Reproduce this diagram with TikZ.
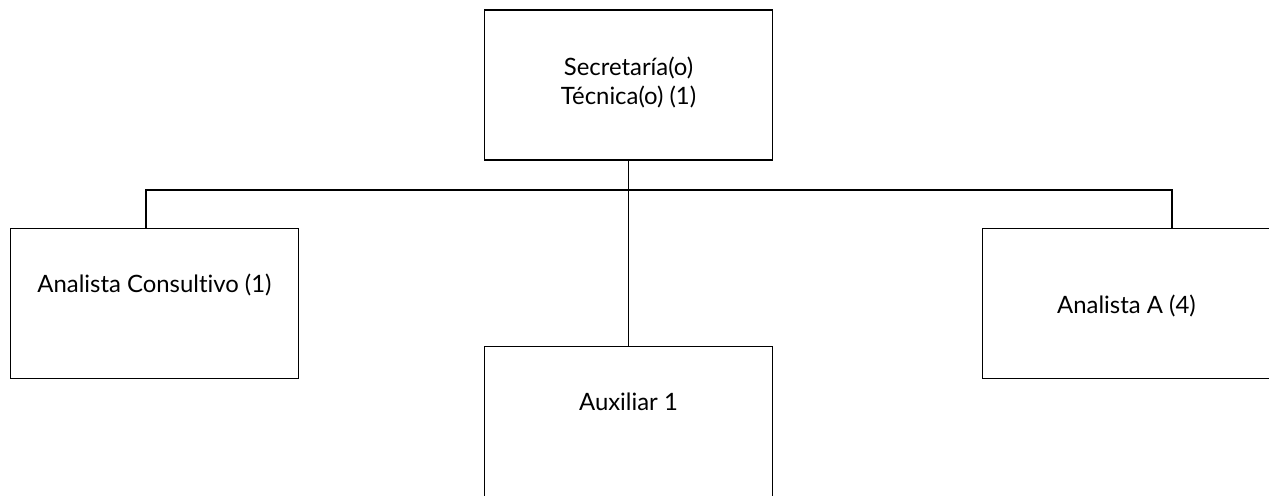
\documentclass[tikz,border=0pt]{standalone}
\usepackage{fontspec}
\setmainfont{Lato}[Ligatures=NoCommon]
\usetikzlibrary{positioning}

\tikzset{
    puesto/.style={draw, line width=0.8pt, minimum width=5.76cm, minimum height=3cm, inner sep=0pt, outer sep=0pt},
    rotulo/.style={font=\fontsize{13.6}{16.5}\selectfont, align=center, inner sep=0pt},
    enlace/.style={line width=0.8pt}
}

\begin{document}
\begin{tikzpicture}[x=0.02cm, y=-0.02cm]
    \useasboundingbox (0,0) rectangle (1269,496);
    \clip (0,0) rectangle (1269,496);

    % Boxes
    \node[puesto] (sec) at (628.5,85) {};
    \node[puesto] (cons) at (154.5,303.5) {};
    \node[puesto] (aux) at (628.5,421.5) {};
    \node[puesto] (ana) at (1126.5,303.5) {};

    % Texts
    \node[rotulo] (secT) at ([yshift=0.06cm]sec.center) {Secretaría(o)\\Técnica(o) (1)};
    \node[rotulo] (consT) at ([yshift=0.38cm]cons.center) {Analista Consultivo (1)};
    \node[rotulo] (auxT) at ([yshift=0.4cm]aux.center) {Auxiliar 1};
    \node[rotulo] (anaT) at ([yshift=-0.05cm]ana.center) {Analista A (4)};

    % Connectors
    \coordinate (hub) at (628.5,190);
    \draw[enlace] (sec.south) -- (aux.north);
    \draw[enlace] ([xshift=-0.17cm]cons.north) |- (hub) -| ([xshift=0.91cm]ana.north);
\end{tikzpicture}
\end{document}
